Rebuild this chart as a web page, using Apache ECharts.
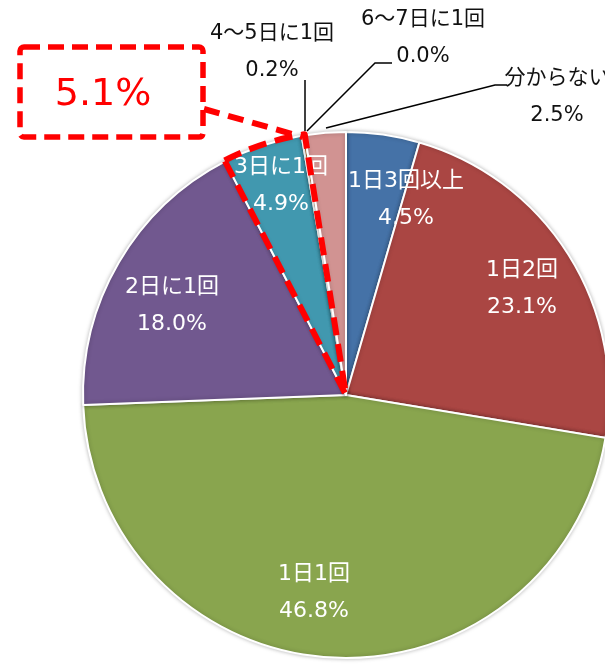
<!DOCTYPE html>
<html>
<head>
<meta charset="utf-8">
<script src="https://cdn.jsdelivr.net/npm/echarts@6/dist/echarts.min.js"></script>
<style>
  html, body { margin: 0; padding: 0; background: #fff; }
  #chart { width: 605px; height: 664px; }
</style>
</head>
<body>
<div id="chart"></div>
<script>
// 頻度の内訳 (%)
var categories = ['1日3回以上', '1日2回', '1日1回', '2日に1回', '3日に1回', '4～5日に1回', '6～7日に1回', '分からない'];
var values = [4.5, 23.1, 46.8, 18.0, 4.9, 0.2, 0.0, 2.5];
var colors = ['#4572A7', '#AA4643', '#89A54E', '#71588F', '#4198AF', '#DB843D', '#93A9CF', '#D19392'];
// 赤枠で囲む項目 (3日に1回 + 4～5日に1回)
var highlight = [4, 5];

// label positions (center of each label)
var labelPos = [
  [406, 200], [522, 289], [314, 593], [172, 306], [281, 186], [272, 52], [423, 38], [557, 97]
];
var outsideIdx = [5, 6, 7];
var guidePts = {
  5: [[305, 131], [305, 105], [305, 80]],
  6: [[307, 131], [375, 63], [392, 63]],
  7: [[326, 128], [495, 85], [507, 85]]
};

var center = [346, 395];
var radius = 263;
var labelFont = '"DejaVu Sans", "Noto Sans CJK JP", sans-serif';

var pieData = categories.map(function (name, i) {
  var outside = outsideIdx.indexOf(i) >= 0;
  return {
    name: name,
    value: values[i],
    itemStyle: { color: colors[i] },
    label: {
      position: outside ? 'outside' : 'inside',
      color: outside ? '#111' : '#fff',
      fontSize: outside ? 21 : 22
    },
    labelLine: { show: outside }
  };
});

var before = 0, inside = 0, after = 0;
values.forEach(function (v, i) {
  if (i < highlight[0]) before += v;
  else if (highlight.indexOf(i) >= 0) inside += v;
  else after += v;
});
var hiText = inside.toFixed(1) + '%';

var chart = echarts.init(document.getElementById('chart'));
chart.setOption({
  animation: false,
  series: [
    {
      type: 'pie',
      center: center,
      radius: radius,
      startAngle: 90,
      clockwise: true,
      avoidLabelOverlap: false,
      minShowLabelAngle: 0,
      data: pieData,
      itemStyle: {
        borderColor: '#fff',
        borderWidth: 2,
        shadowBlur: 4,
        shadowColor: 'rgba(0,0,0,0.25)'
      },
      label: {
        show: true,
        fontFamily: labelFont,
        lineHeight: 37,
        formatter: function (p) {
          return p.name + '\n' + p.value.toFixed(1) + '%';
        }
      },
      labelLine: {
        lineStyle: { color: '#000', width: 1.5 }
      },
      labelLayout: function (p) {
        var pos = labelPos[p.dataIndex];
        var res = { x: pos[0], y: pos[1], align: 'center', verticalAlign: 'middle' };
        if (guidePts[p.dataIndex]) res.labelLinePoints = guidePts[p.dataIndex];
        return res;
      }
    },
    {
      type: 'pie',
      center: center,
      radius: radius + 1,
      startAngle: 90,
      clockwise: true,
      silent: true,
      z: 5,
      label: { show: false },
      labelLine: { show: false },
      data: [
        { value: before, itemStyle: { color: 'transparent', borderWidth: 0 } },
        {
          value: inside,
          itemStyle: {
            color: 'transparent',
            borderColor: '#FF0000',
            borderWidth: 6,
            borderType: [18, 9],
            borderJoin: 'round'
          }
        },
        { value: after, itemStyle: { color: 'transparent', borderWidth: 0 } }
      ]
    }
  ],
  graphic: [
    {
      type: 'rect',
      shape: { x: 20, y: 47, width: 183, height: 90, r: 4 },
      style: { fill: 'none', stroke: '#FF0000', lineWidth: 5.5, lineDash: [16, 8] },
      z: 10
    },
    {
      type: 'line',
      shape: { x1: 204, y1: 109, x2: 303, y2: 137 },
      style: { stroke: '#FF0000', lineWidth: 6, lineDash: [16, 9] },
      z: 10
    },
    {
      type: 'text',
      x: 103,
      y: 95,
      style: {
        text: hiText,
        fill: '#FF0000',
        font: '38px "DejaVu Sans", sans-serif',
        align: 'center',
        verticalAlign: 'middle'
      },
      z: 10
    }
  ]
});
</script>
</body>
</html>
